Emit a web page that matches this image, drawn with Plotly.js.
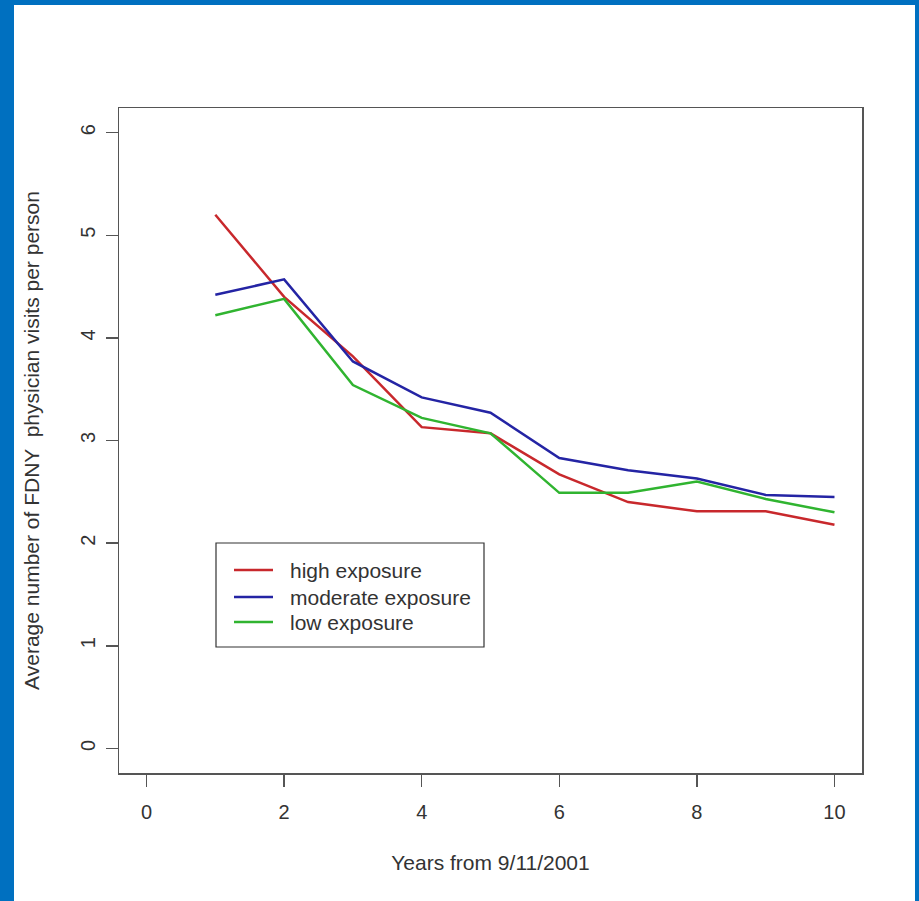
<!DOCTYPE html>
<html>
<head>
<meta charset="utf-8">
<script src="https://cdn.plot.ly/plotly-3.0.1.min.js"></script>
<style>
  html, body { margin:0; padding:0; background:#0070C0; }
  #frame { position:absolute; left:14px; top:5px; width:901px; height:896px; background:#ffffff; }
  #chart { position:absolute; left:0; top:0; width:919px; height:901px; }
</style>
</head>
<body>
<div id="frame"></div>
<div id="chart"></div>
<script>
const years = [1, 2, 3, 4, 5, 6, 7, 8, 9, 10];
const highExposure = [5.20, 4.40, 3.82, 3.13, 3.07, 2.67, 2.40, 2.31, 2.31, 2.18];
const moderateExposure = [4.42, 4.57, 3.77, 3.42, 3.27, 2.83, 2.71, 2.63, 2.47, 2.45];
const lowExposure = [4.22, 4.38, 3.54, 3.22, 3.07, 2.49, 2.49, 2.60, 2.43, 2.30];
const seriesNames = ["high exposure", "moderate exposure", "low exposure"];
const xTicks = [0, 2, 4, 6, 8, 10];
const yTicks = [0, 1, 2, 3, 4, 5, 6];

const colors = ["#C8282C", "#2424A4", "#30B430"];
const seriesValues = [highExposure, moderateExposure, lowExposure];

const traces = seriesValues.map((vals, i) => ({
  x: years, y: vals, type: "scatter", mode: "lines", name: seriesNames[i],
  line: { color: colors[i], width: 2.5 }
}));

const axisColor = "#555555";
const font = { family: "Liberation Sans, Arial, sans-serif", color: "#333333" };

// plot area in pixels (for placing the legend box, R-style)
const M = { l: 119, r: 57, t: 108, b: 128 };
const W = 919, H = 901;
const pw = W - M.l - M.r, ph = H - M.t - M.b;
const px = v => (v - M.l) / pw;
const py = v => (H - M.b - v) / ph;

const legendBox = { x0: 216, x1: 484, y0: 543, y1: 647 };
const legendRows = [570, 597, 622];
const shapes = [{
  type: "rect", xref: "paper", yref: "paper",
  x0: px(legendBox.x0), x1: px(legendBox.x1), y0: py(legendBox.y1), y1: py(legendBox.y0),
  line: { color: "#333333", width: 1.2 }, fillcolor: "#ffffff", layer: "above"
}];
const annotations = [];
seriesNames.forEach((name, i) => {
  shapes.push({
    type: "line", xref: "paper", yref: "paper",
    x0: px(234), x1: px(273), y0: py(legendRows[i]), y1: py(legendRows[i]),
    line: { color: colors[i], width: 2.5 }, layer: "above"
  });
  annotations.push({
    xref: "paper", yref: "paper", x: px(288), y: py(legendRows[i]),
    xanchor: "left", yanchor: "middle", showarrow: false, text: name,
    font: Object.assign({ size: 21 }, font)
  });
});

const layout = {
  width: W, height: H,
  paper_bgcolor: "rgba(0,0,0,0)", plot_bgcolor: "#ffffff",
  margin: M,
  font: Object.assign({ size: 20 }, font),
  showlegend: false,
  shapes: shapes,
  annotations: annotations,
  xaxis: {
    range: [-0.4, 10.4], tickvals: xTicks, ticktext: xTicks.map(String),
    ticks: "outside", ticklen: 12, tickwidth: 1.5, tickcolor: axisColor,
    showline: true, linecolor: axisColor, linewidth: 1.5, mirror: true,
    showgrid: false, zeroline: false, ticklabelstandoff: 8,
    tickfont: Object.assign({ size: 20 }, font),
    title: { text: "Years from 9/11/2001", font: Object.assign({ size: 21 }, font), standoff: 34 }
  },
  yaxis: {
    range: [-0.24, 6.24], tickvals: yTicks, ticktext: yTicks.map(String),
    ticks: "outside", ticklen: 12, tickwidth: 1.5, tickcolor: axisColor,
    showline: true, linecolor: axisColor, linewidth: 1.5, mirror: true,
    showgrid: false, zeroline: false, tickangle: -90, ticklabelstandoff: 3,
    tickfont: Object.assign({ size: 20 }, font),
    title: { text: "Average number of FDNY  physician visits per person", font: Object.assign({ size: 21 }, font), standoff: 31 }
  }
};

Plotly.newPlot("chart", traces, layout, { displayModeBar: false, staticPlot: true });
</script>
</body>
</html>
